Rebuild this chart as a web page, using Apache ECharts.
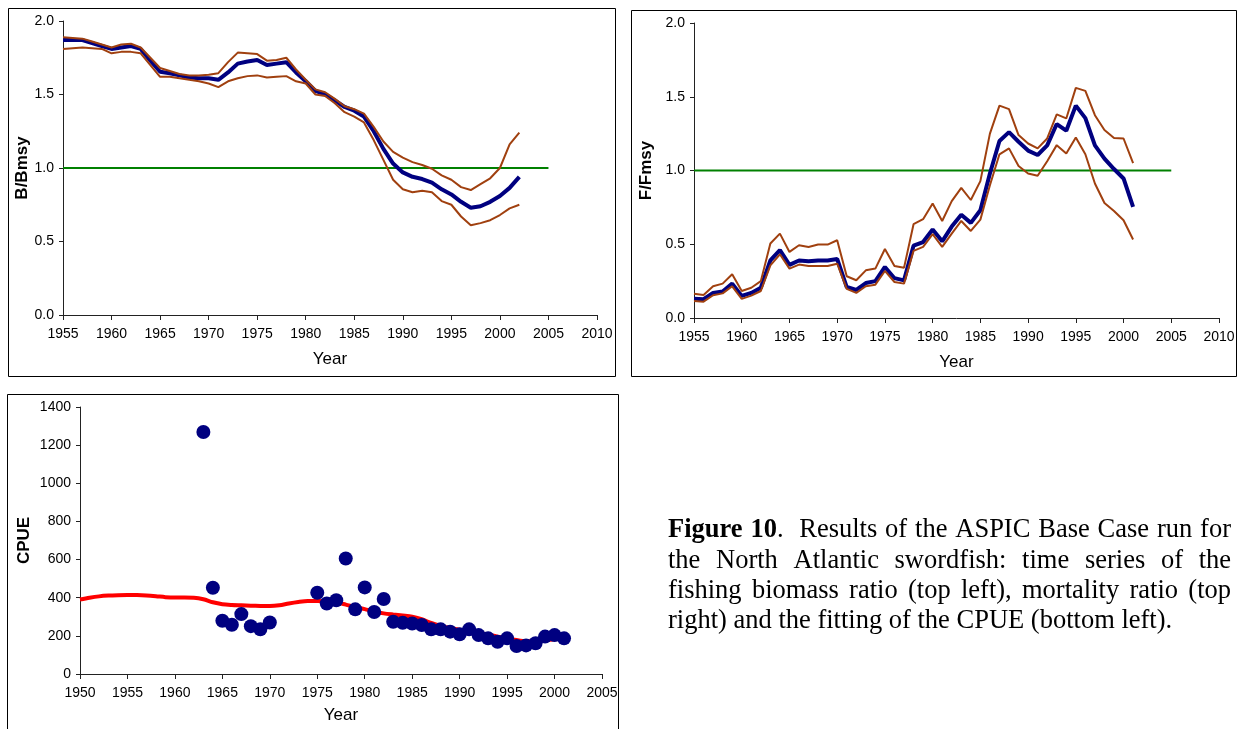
<!DOCTYPE html>
<html>
<head>
<meta charset="utf-8">
<script src="https://cdn.jsdelivr.net/npm/echarts@6/dist/echarts.min.js"></script>
<style>
html,body{margin:0;padding:0;background:#fff;}
#chart{width:1246px;height:729px;}
</style>
</head>
<body>
<div id="chart"></div>
<script>
// ---------- DATA ----------
const xTicks1 = [1955, 2010, 5];
const xTicks3 = [1950, 2005, 5];

const bbYears = [1955,1956,1957,1958,1959,1960,1961,1962,1963,1964,1965,1966,1967,1968,1969,1970,1971,1972,1973,1974,1975,1976,1977,1978,1979,1980,1981,1982,1983,1984,1985,1986,1987,1988,1989,1990,1991,1992,1993,1994,1995,1996,1997,1998,1999,2000,2001,2002];
const bbMid = [1.87,1.87,1.87,1.85,1.83,1.81,1.82,1.83,1.81,1.73,1.655,1.645,1.63,1.615,1.61,1.61,1.60,1.65,1.71,1.725,1.735,1.70,1.71,1.72,1.65,1.59,1.525,1.50,1.46,1.415,1.39,1.35,1.25,1.13,1.03,0.97,0.94,0.925,0.90,0.855,0.82,0.77,0.73,0.74,0.77,0.81,0.865,0.94];
const bbUpper = [1.89,1.885,1.88,1.86,1.84,1.82,1.84,1.845,1.82,1.75,1.68,1.66,1.64,1.63,1.63,1.635,1.645,1.72,1.785,1.78,1.775,1.73,1.735,1.75,1.67,1.60,1.535,1.515,1.47,1.42,1.40,1.37,1.28,1.18,1.11,1.07,1.04,1.02,0.995,0.95,0.92,0.87,0.85,0.89,0.93,1.00,1.16,1.24];
const bbLower = [1.81,1.815,1.82,1.815,1.81,1.78,1.79,1.79,1.78,1.70,1.62,1.62,1.61,1.60,1.59,1.575,1.55,1.59,1.61,1.625,1.63,1.615,1.62,1.625,1.59,1.575,1.50,1.49,1.44,1.38,1.35,1.31,1.19,1.055,0.92,0.855,0.835,0.845,0.835,0.775,0.75,0.67,0.61,0.625,0.645,0.68,0.725,0.75];

const ffYears = [1955,1956,1957,1958,1959,1960,1961,1962,1963,1964,1965,1966,1967,1968,1969,1970,1971,1972,1973,1974,1975,1976,1977,1978,1979,1980,1981,1982,1983,1984,1985,1986,1987,1988,1989,1990,1991,1992,1993,1994,1995,1996,1997,1998,1999,2000,2001];
const ffMid = [0.13,0.127,0.17,0.18,0.233,0.15,0.17,0.205,0.39,0.46,0.36,0.39,0.385,0.39,0.39,0.40,0.21,0.19,0.237,0.25,0.346,0.27,0.255,0.49,0.515,0.60,0.52,0.62,0.70,0.645,0.73,0.98,1.20,1.26,1.195,1.135,1.105,1.17,1.315,1.27,1.44,1.355,1.17,1.08,1.01,0.946,0.753];
const ffUpper = [0.165,0.156,0.215,0.233,0.296,0.183,0.205,0.25,0.505,0.572,0.448,0.493,0.482,0.498,0.498,0.527,0.283,0.256,0.323,0.335,0.468,0.353,0.34,0.636,0.67,0.776,0.658,0.792,0.882,0.80,0.928,1.25,1.44,1.416,1.24,1.183,1.15,1.217,1.38,1.353,1.56,1.54,1.375,1.274,1.22,1.217,1.05];
const ffLower = [0.115,0.111,0.154,0.167,0.215,0.13,0.152,0.183,0.357,0.432,0.335,0.362,0.353,0.353,0.353,0.368,0.197,0.17,0.215,0.226,0.319,0.244,0.233,0.455,0.482,0.568,0.482,0.572,0.658,0.59,0.667,0.90,1.11,1.15,1.03,0.98,0.964,1.063,1.172,1.115,1.224,1.11,0.912,0.78,0.726,0.663,0.532];

const refYears = [1955, 2005];
const refValue = 1.0;

const cpueObsYears = [1963,1964,1965,1966,1967,1968,1969,1970,1975,1976,1977,1978,1979,1980,1981,1982,1983,1984,1985,1986,1987,1988,1989,1990,1991,1992,1993,1994,1995,1996,1997,1998,1999,2000,2001];
const cpueObs = [1269,452,279,258,314,251,234,270,426,370,387,606,339,454,325,393,274,269,265,257,234,234,222,208,234,204,187,169,187,147,150,161,196,204,187];

const cpueFitYears = [1950,1951,1952,1953,1954,1955,1956,1957,1958,1959,1960,1961,1962,1963,1964,1965,1966,1967,1968,1969,1970,1971,1972,1973,1974,1975,1976,1977,1978,1979,1980,1981,1982,1983,1984,1985,1986,1987,1988,1989,1990,1991,1992,1993,1994,1995,1996,1997,1998,1999,2000,2001];
const cpueFit = [391,400,407,411,413,414,414,412,408,403,401,401,400,392,376,366,362,360,358,357,356,360,370,378,383,383,381,376,364,351,340,328,318,312,307,301,287,268,252,241,232,226,216,206,196,188,178,172,172,176,182,186];

const captionLines = [
  'Figure 10.  Results of the ASPIC Base Case run for',
  'the North Atlantic swordfish: time series of the',
  'fishing biomass ratio (top left), mortality ratio (top',
  'right) and the fitting of the CPUE (bottom left).'
];
const captionBold = 'Figure 10';

// ---------- STYLE ----------
const SANS = '"Liberation Sans", Arial, sans-serif';
const SERIF = '"Liberation Serif", "Times New Roman", serif';
const NAVY = '#000080', BROWN = '#A0400F', GREEN = '#008000', RED = '#FF0000';

function pairs(xs, ys){ return xs.map((x,i)=>[x, ys[i]]); }

function xAxisFor(gi, ticks, gap){
  return {
    gridIndex: gi, type:'value', min: ticks[0], max: ticks[1], interval: ticks[2],
    axisLine:{show:true, onZero:false, lineStyle:{color:'#222', width:1}},
    axisTick:{show:true, length:5, lineStyle:{color:'#222'}},
    axisLabel:{fontSize:14, color:'#000', fontFamily:SANS, margin:12, formatter: v => String(v)},
    splitLine:{show:false},
    name:'Year', nameLocation:'middle', nameGap:gap,
    nameTextStyle:{fontSize:17, color:'#000', fontFamily:SANS}
  };
}
function yAxisFor(gi, name, min, max, interval, dec, gap){
  return {
    gridIndex: gi, type:'value', min, max, interval,
    axisLine:{show:true, lineStyle:{color:'#222', width:1}},
    axisTick:{show:true, length:4, lineStyle:{color:'#222'}},
    axisLabel:{fontSize:14, color:'#000', fontFamily:SANS, margin:9,
      formatter: v => v.toFixed(dec)},
    splitLine:{show:false},
    name, nameLocation:'middle', nameGap:gap,
    nameTextStyle:{fontSize:17, fontWeight:'bold', color:'#000', fontFamily:SANS}
  };
}
function lineS(xi, data, color, width, z){
  return {type:'line', xAxisIndex:xi, yAxisIndex:xi, data, symbol:'none', showSymbol:false,
    lineStyle:{color, width}, itemStyle:{color}, z, animation:false, silent:true};
}

// ---------- CAPTION LAYOUT ----------
const capLeft = 668, capRight = 1231, capSize = 26.5, capFirstBase = 539, capLineH = 30.3;
const mctx = document.createElement('canvas').getContext('2d');
function measure(t, bold){
  mctx.font = (bold ? 'bold ' : '') + capSize + 'px ' + SERIF;
  return mctx.measureText(t).width;
}
const captionGraphics = [];
captionLines.forEach((line, li) => {
  const parts = line.split(' ');
  const words = [];
  let offset = 0, spaces = 0, pendingSpaces = 0;
  parts.forEach((p, pi) => {
    if (pi > 0) pendingSpaces++;
    if (p === '') { offset += 1; return; }
    if (pi > 0) offset += 1;
    const runs = [];
    const boldLen = (li === 0) ? Math.max(0, Math.min(p.length, captionBold.length - offset)) : 0;
    if (boldLen > 0) runs.push({t:p.slice(0, boldLen), b:true});
    if (boldLen < p.length) runs.push({t:p.slice(boldLen), b:false});
    runs.forEach(r => r.w = measure(r.t, r.b));
    words.push({runs, w: runs.reduce((s,r)=>s+r.w,0), spacesBefore: words.length ? pendingSpaces : 0});
    spaces += words.length > 1 ? pendingSpaces : 0;
    pendingSpaces = 0;
    offset += p.length;
  });
  const spaceW = measure(' ', false);
  const natural = words.reduce((s,w)=>s+w.w,0) + spaces*spaceW;
  const justify = li < captionLines.length - 1;
  const sp = justify && spaces > 0 ? spaceW + (capRight - capLeft - natural)/spaces : spaceW;
  let x = capLeft;
  const yMid = capFirstBase + li*capLineH - 0.33*capSize;
  words.forEach((w) => {
    x += w.spacesBefore * sp;
    w.runs.forEach(r => {
      captionGraphics.push({type:'text', x, y:yMid, silent:true,
        style:{text:r.t, fill:'#000', fontSize:capSize, fontFamily:SERIF,
          fontWeight: r.b ? 'bold' : 'normal', verticalAlign:'middle', align:'left'}});
      x += r.w;
    });
  });
});

// ---------- CHART ----------
const chart = echarts.init(document.getElementById('chart'), null, {renderer:'canvas'});
const option = {
  animation:false,
  backgroundColor:'#fff',
  grid:[
    {left:63, top:21, width:534, height:294},
    {left:694, top:23, width:525, height:295},
    {left:80, top:407, width:522, height:267}
  ],
  xAxis:[ xAxisFor(0, xTicks1, 36), xAxisFor(1, xTicks1, 36), xAxisFor(2, xTicks3, 33) ],
  yAxis:[
    yAxisFor(0, 'B/Bmsy', 0, 2, 0.5, 1, 29),
    yAxisFor(1, 'F/Fmsy', 0, 2, 0.5, 1, 39),
    yAxisFor(2, 'CPUE', 0, 1400, 200, 0, 47)
  ],
  series:[
    lineS(0, pairs(refYears, refYears.map(()=>refValue)), GREEN, 2, 2),
    lineS(0, pairs(bbYears, bbMid), NAVY, 4, 3),
    lineS(0, pairs(bbYears, bbUpper), BROWN, 2, 4),
    lineS(0, pairs(bbYears, bbLower), BROWN, 2, 4),
    lineS(1, pairs(refYears, refYears.map(()=>refValue)), GREEN, 2, 2),
    lineS(1, pairs(ffYears, ffMid), NAVY, 4, 3),
    lineS(1, pairs(ffYears, ffUpper), BROWN, 2, 4),
    lineS(1, pairs(ffYears, ffLower), BROWN, 2, 4),
    Object.assign(lineS(2, pairs(cpueFitYears, cpueFit), RED, 4, 2), {smooth:0.3}),
    {type:'scatter', xAxisIndex:2, yAxisIndex:2, data: pairs(cpueObsYears, cpueObs),
      symbol:'circle', symbolSize:14, itemStyle:{color:NAVY, opacity:1}, z:5, silent:true}
  ],
  graphic:[
    {type:'rect', shape:{x:8.5, y:8.5, width:607, height:368}, style:{fill:'none', stroke:'#000', lineWidth:1}, silent:true},
    {type:'rect', shape:{x:631.5, y:10.5, width:605, height:366}, style:{fill:'none', stroke:'#000', lineWidth:1}, silent:true},
    {type:'rect', shape:{x:7.5, y:394.5, width:611, height:360}, style:{fill:'none', stroke:'#000', lineWidth:1}, silent:true}
  ].concat(captionGraphics)
};
chart.setOption(option);
</script>
</body>
</html>
